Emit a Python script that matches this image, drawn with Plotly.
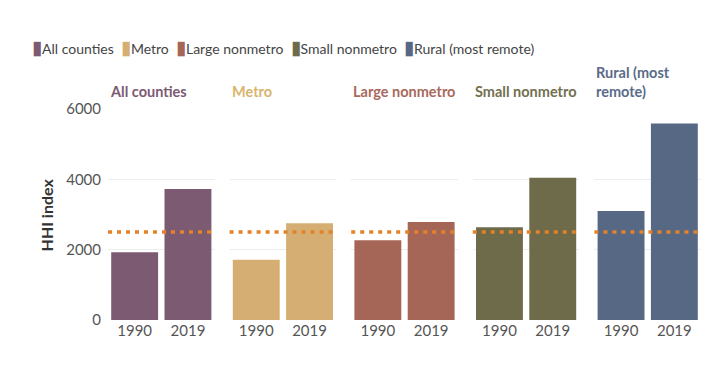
import plotly.graph_objects as go
from plotly.subplots import make_subplots

groups = ["All counties", "Metro", "Large nonmetro", "Small nonmetro", "Rural (most remote)"]
panel_titles = ["All counties", "Metro", "Large nonmetro", "Small nonmetro", "Rural (most<br>remote)"]
years = ["1990", "2019"]
hhi_1990 = [1925, 1715, 2265, 2635, 3100]
hhi_2019 = [3725, 2750, 2785, 4045, 5590]
threshold = 2500
colors = ["#7b5a72", "#d4ae72", "#a66657", "#6e6b4b", "#566883"]
title_colors = ["#7d5a74", "#d8b46f", "#a86a5c", "#72704f", "#5a6c88"]
yticks = [0, 2000, 4000, 6000]

FONT = "Lato"
fig = make_subplots(rows=1, cols=5, shared_yaxes=True, horizontal_spacing=0.0253)

for i, g in enumerate(groups):
    fig.add_trace(go.Bar(x=years, y=[hhi_1990[i], hhi_2019[i]], name=g,
                         marker=dict(color=colors[i], line=dict(width=0)),
                         showlegend=False), row=1, col=i + 1)
    xref = "x" if i == 0 else f"x{i+1}"
    fig.add_shape(type="line", xref=f"{xref} domain", yref="y", x0=0, x1=1,
                  y0=threshold, y1=threshold,
                  line=dict(color="#e38229", width=3.5, dash="4px,5px"))
    n = panel_titles[i].count("<br>") + 1
    fig.add_annotation(xref=f"{xref} domain", yref="paper", x=0.0,
                       y=1.082 + (n - 1) * 0.045,
                       xanchor="left", yanchor="middle", text=f"<b>{panel_titles[i]}</b>",
                       showarrow=False, align="left",
                       font=dict(family=FONT, size=14.5, color=title_colors[i]))
    fig.update_xaxes(row=1, col=i + 1, showgrid=False, zeroline=False, showline=False,
                     ticks="", tickfont=dict(family=FONT, size=15, color="#555"))

# legend row built as text
legend_text = "  ".join(
    f"<span style='color:{c};font-size:19px'>▮</span>{g}" for g, c in zip(groups, colors))
fig.add_annotation(xref="paper", yref="paper", x=-0.1315, y=1.294, xanchor="left",
                   yanchor="middle", text=legend_text, showarrow=False,
                   font=dict(family=FONT, size=14, color="#444"))

fig.add_annotation(xref="paper", yref="paper", x=-0.103, y=0.5, textangle=-90,
                   xanchor="center", yanchor="middle", text="<b>HHI index</b>",
                   showarrow=False, font=dict(family=FONT, size=16, color="#333"))

fig.update_yaxes(range=[0, 6000], tickvals=yticks, showgrid=True, gridcolor="#ededed",
                 gridwidth=1, zeroline=False, showline=False, ticks="",
                 ticklabelstandoff=6,
                 tickfont=dict(family=FONT, size=15, color="#555"))

fig.update_layout(
    width=708, height=353,
    margin=dict(l=100, r=15, t=101, b=41, autoexpand=False),
    paper_bgcolor="white", plot_bgcolor="white",
    bargap=0.12,
    showlegend=False,
    font=dict(family=FONT, color="#444"),
)

fig.write_html("out.html")
